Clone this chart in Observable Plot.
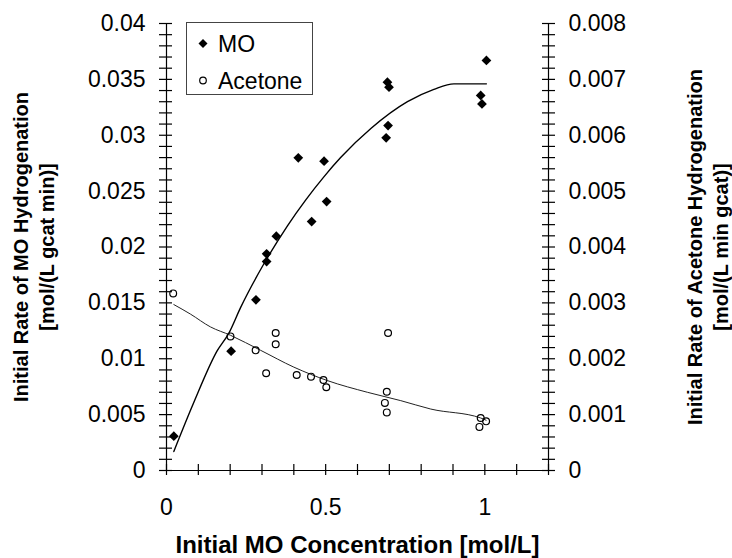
<!DOCTYPE html>
<html><head><meta charset="utf-8">
<script src="https://cdn.jsdelivr.net/npm/d3@7"></script>
<script src="https://cdn.jsdelivr.net/npm/@observablehq/plot@0.6"></script>
<style>
body{margin:0;background:#fff;font-family:"Liberation Sans",Arial,sans-serif;}
#wrap{position:relative;width:732px;height:558px;}
#legend{position:absolute;left:186px;top:22px;width:127px;height:73px;border:1px solid #444;background:#fff;box-sizing:border-box;}
#legend svg{display:block;}
</style></head><body><div id="wrap"></div>
<script>
// MO hydrogenation rate (left axis) vs initial MO concentration
const moConc = [0.023, 0.203, 0.281, 0.3145, 0.3145, 0.345, 0.414, 0.456, 0.495, 0.503, 0.690, 0.696, 0.694, 0.699, 0.987, 0.991, 1.005];
const moRate = [0.00307, 0.01068, 0.01527, 0.01870, 0.01939, 0.02097, 0.02798, 0.02228, 0.02768, 0.02407, 0.02977, 0.03087, 0.03475, 0.03430, 0.03356, 0.03280, 0.03669];
// Acetone hydrogenation rate (right axis)
const acConc = [0.021, 0.201, 0.280, 0.313, 0.343, 0.343, 0.409, 0.454, 0.493, 0.502, 0.696, 0.692, 0.686, 0.692, 0.987, 1.004, 0.983];
const acRate = [0.00317, 0.00240, 0.00215, 0.00174, 0.00246, 0.00226, 0.00171, 0.00168, 0.00162, 0.00149, 0.00246, 0.00141, 0.00121, 0.00104, 0.00094, 0.00088, 0.00078];
// fitted curves
const moFitX = [0.023, 0.086, 0.159, 0.196, 0.233, 0.306, 0.380, 0.437, 0.495, 0.547, 0.642, 0.757, 0.840, 0.903, 1.005];
const moFitY = [0.0017, 0.0061, 0.0107, 0.0123, 0.0146, 0.0185, 0.0219, 0.0242, 0.0263, 0.0280, 0.0306, 0.0330, 0.0341, 0.0346, 0.0346];
const acFitX = [0.023, 0.075, 0.138, 0.201, 0.296, 0.400, 0.505, 0.631, 0.736, 0.830, 0.987, 1.004];
const acFitY = [0.00297, 0.00280, 0.00257, 0.00242, 0.00215, 0.00185, 0.00161, 0.00140, 0.00125, 0.00110, 0.00094, 0.00090];
// ticks
const xTicks = [0, 0.5, 1];
const xTickLabels = ["0", "0.5", "1"];
const xMinorTicks = [0, 0.1, 0.2, 0.3, 0.4, 0.5, 0.6, 0.7, 0.8, 0.9, 1.0, 1.1, 1.2];
const leftTicks = [0, 0.005, 0.01, 0.015, 0.02, 0.025, 0.03, 0.035, 0.04];
const leftTickLabels = ["0", "0.005", "0.01", "0.015", "0.02", "0.025", "0.03", "0.035", "0.04"];
const rightTicks = [0, 0.001, 0.002, 0.003, 0.004, 0.005, 0.006, 0.007, 0.008];
const rightTickLabels = ["0", "0.001", "0.002", "0.003", "0.004", "0.005", "0.006", "0.007", "0.008"];
const yMinorStep = 0.001;
const xTitle = "Initial MO Concentration [mol/L]";
const yLeftTitle = "Initial Rate of MO Hydrogenation\n[mol/(L gcat min)]";
const yRightTitle = "Initial Rate of Acetone Hydrogenation\n[mol/(L min gcat)]";
const seriesNames = ["MO", "Acetone"];

const ratio = 5; // left axis max 0.04 / right axis max 0.008
const yMinorTicks = d3.range(0, 41).map(i => +(i * yMinorStep).toFixed(4));

const mo = moConc.map((x, i) => ({x, y: moRate[i]}));
const ac = acConc.map((x, i) => ({x, y: acRate[i] * ratio}));
const moFit = moFitX.map((x, i) => ({x, y: moFitY[i]}));
const acFit = acFitX.map((x, i) => ({x, y: acFitY[i] * ratio}));

const chart = Plot.plot({
  width: 732, height: 558,
  marginLeft: 166, marginRight: 184, marginTop: 23, marginBottom: 88,
  style: {fontFamily: "'Liberation Sans', Arial, sans-serif", fontSize: "23px", color: "black", background: "white", overflow: "visible"},
  x: {domain: [0, 1.2], axis: null},
  y: {domain: [0, 0.04], axis: null},
  marks: [
    // minor/major ticks crossing axes
    Plot.axisX({ticks: xMinorTicks, tickSize: 5, tickFormat: () => "", label: null, strokeWidth: 1.2}),
    Plot.axisX({ticks: xMinorTicks, tickSize: -6, tickFormat: () => "", label: null, strokeWidth: 1.2}),
    Plot.axisY({anchor: "left", ticks: yMinorTicks, tickSize: 7, tickFormat: () => "", label: null, strokeWidth: 1.2}),
    Plot.axisY({anchor: "left", ticks: yMinorTicks, tickSize: -6, tickFormat: () => "", label: null, strokeWidth: 1.2}),
    Plot.axisY({anchor: "right", ticks: yMinorTicks, tickSize: 6, tickFormat: () => "", label: null, strokeWidth: 1.2}),
    Plot.axisY({anchor: "right", ticks: yMinorTicks, tickSize: -7, tickFormat: () => "", label: null, strokeWidth: 1.2}),
    // tick labels
    Plot.axisX({ticks: xTicks, tickSize: 0, tickPadding: 28, fontSize: 23, label: null,
      tickFormat: d => xTickLabels[xTicks.indexOf(d)]}),
    Plot.axisY({anchor: "left", ticks: leftTicks, tickSize: 0, tickPadding: 21, fontSize: 23, label: null,
      tickFormat: d => leftTickLabels[leftTicks.indexOf(d)]}),
    Plot.axisY({anchor: "right", ticks: rightTicks.map(v => v * ratio), tickSize: 0, tickPadding: 20, fontSize: 23, label: null,
      tickFormat: d => rightTickLabels[Math.round(d / ratio / 0.001)]}),
    // axis lines
    Plot.ruleY([0], {stroke: "black", strokeWidth: 1.2}),
    Plot.ruleX([0], {stroke: "black", strokeWidth: 1.2}),
    Plot.ruleX([1.2], {stroke: "black", strokeWidth: 1.2}),
    // fitted curves
    Plot.line(moFit, {x: "x", y: "y", curve: "monotone-x", stroke: "black", strokeWidth: 1.4}),
    Plot.line(acFit, {x: "x", y: "y", curve: "monotone-x", stroke: "#222", strokeWidth: 1}),
    // data
    Plot.dot(mo, {x: "x", y: "y", symbol: "diamond2", r: 4.4, fill: "black", stroke: "none"}),
    Plot.dot(ac, {x: "x", y: "y", symbol: "circle", r: 3.4, fill: "none", stroke: "black", strokeWidth: 1.2}),
    // titles
    Plot.text([xTitle], {frameAnchor: "bottom", dy: 75, text: d => d, fontWeight: "bold", fontSize: 24, lineAnchor: "middle", textAnchor: "middle"}),
    Plot.text([yLeftTitle], {frameAnchor: "left", dx: -134, rotate: -90, text: d => d, fontWeight: "bold", fontSize: 20, lineHeight: 1.3, lineAnchor: "middle", textAnchor: "middle"}),
    Plot.text([yRightTitle], {frameAnchor: "right", dx: 158, rotate: -90, text: d => d, fontWeight: "bold", fontSize: 20, lineHeight: 1.3, lineAnchor: "middle", textAnchor: "middle"})
  ]
});

const wrap = document.getElementById("wrap");
wrap.appendChild(chart);

// legend box
const legend = document.createElement("div");
legend.id = "legend";
legend.innerHTML = `<svg width="125" height="71" font-family="'Liberation Sans', Arial, sans-serif" font-size="23">
  <path d="M16,16 L20.5,20.5 L16,25 L11.5,20.5 Z" fill="black"/>
  <text x="31" y="29">${seriesNames[0]}</text>
  <circle cx="16" cy="57.5" r="3.3" fill="none" stroke="black" stroke-width="1.2"/>
  <text x="31" y="66">${seriesNames[1]}</text>
</svg>`;
wrap.appendChild(legend);
</script>
</body></html>
